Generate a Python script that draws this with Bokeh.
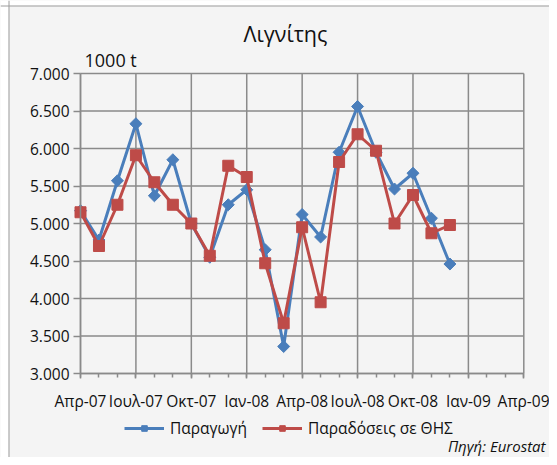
import math
from bokeh.plotting import figure
from bokeh.models import FixedTicker, Legend, LegendItem, Range1d, Label, Span, BoxAnnotation
from bokeh.embed import file_html
from bokeh.resources import INLINE

# month index: 0 = Apr-07 ... 20 = Dec-08
month_index = list(range(21))
production = [5170, 4780, 5570, 6330, 5370, 5850, 5000, 4550, 5250, 5450, 4650,
              3360, 5120, 4820, 5950, 6560, 5950, 5460, 5670, 5070, 4460]
deliveries = [5150, 4700, 5250, 5910, 5550, 5250, 5000, 4570, 5770, 5620, 4470,
              3670, 4950, 3950, 5820, 6190, 5970, 5000, 5380, 4870, 4980]
x_tick_pos = [0, 3, 6, 9, 12, 15, 18, 21, 24]
x_tick_labels = ["Απρ-07", "Ιουλ-07", "Οκτ-07", "Ιαν-08", "Απρ-08",
                 "Ιουλ-08", "Οκτ-08", "Ιαν-09", "Απρ-09"]
y_tick_pos = [3000, 3500, 4000, 4500, 5000, 5500, 6000, 6500, 7000]
y_tick_labels = ["3.000", "3.500", "4.000", "4.500", "5.000",
                 "5.500", "6.000", "6.500", "7.000"]

FONT = "Open Sans"
BG = "#f4f4f4"
GRID = "#8a8a8a"
BLUE = "#4A7EBB"
RED = "#BE4B48"
TXT = "#111111"

# layout (pixels)
W, H = 549, 457
LEFT, TOP = 80, 73
PLOT_W, PLOT_H = 443.3, 300.0          # pixel size of the gridded area
x0, x1 = x_tick_pos[0], x_tick_pos[-1]
y0, y1 = y_tick_pos[0], y_tick_pos[-1]
px_x = PLOT_W / (x1 - x0)
px_y = PLOT_H / (y1 - y0)


def dx(px):
    return x0 + (px - LEFT) / px_x


def dy(py):
    return y1 - (py - TOP) / px_y


p = figure(width=W, height=H, output_backend="svg", toolbar_location=None,
           x_range=Range1d(dx(0), dx(W)), y_range=Range1d(dy(H), dy(0)),
           min_border_left=0, min_border_right=0, min_border_top=0,
           min_border_bottom=0, title=None)
p.background_fill_color = BG
p.border_fill_color = BG
p.outline_line_color = None
p.xgrid.visible = False
p.ygrid.visible = False

# outer chart border (top / left) as in the reference
p.add_layout(BoxAnnotation(right=dx(8), fill_color="white", fill_alpha=1, line_alpha=0))
p.add_layout(BoxAnnotation(bottom=dy(5), fill_color="white", fill_alpha=1, line_alpha=0))
p.add_layout(Span(location=dx(8.5), dimension="height", line_color="#9c9c9c", line_width=1))
p.add_layout(Span(location=dy(5.5), dimension="width", line_color="#9c9c9c", line_width=1))

# grid (incl. plot-area border) drawn from the tick positions
p.segment(x0=x_tick_pos, y0=[y0] * len(x_tick_pos), x1=x_tick_pos,
          y1=[y1] * len(x_tick_pos), line_color=GRID, line_width=1.5)
p.segment(x0=[x0] * len(y_tick_pos), y0=y_tick_pos, x1=[x1] * len(y_tick_pos),
          y1=y_tick_pos, line_color=GRID, line_width=1.5)

xt = FixedTicker(ticks=x_tick_pos, minor_ticks=list(range(x0, x1 + 1)))
yt = FixedTicker(ticks=y_tick_pos)
p.xaxis.ticker = xt
p.yaxis.ticker = yt
p.xaxis.fixed_location = y0
p.yaxis.fixed_location = x0
p.xaxis.bounds = (x0, x1)
p.yaxis.bounds = (y0, y1)
p.xaxis.major_label_overrides = {k: v for k, v in zip(x_tick_pos, x_tick_labels)}
p.yaxis.major_label_overrides = {k: v for k, v in zip(y_tick_pos, y_tick_labels)}
for ax in (p.xaxis, p.yaxis):
    ax.axis_line_color = GRID
    ax.axis_line_width = 1.5
    ax.major_tick_line_color = GRID
    ax.major_tick_line_width = 1.5
    ax.minor_tick_line_color = GRID
    ax.minor_tick_line_width = 1.5
    ax.major_tick_in = 0
    ax.minor_tick_in = 0
    ax.major_label_text_font = FONT
    ax.major_label_text_font_size = "15.5px"
    ax.major_label_text_color = TXT
p.xaxis.major_tick_out = 5
p.xaxis.minor_tick_out = 4
p.xaxis.major_label_standoff = 11
p.yaxis.major_tick_out = 7
p.yaxis.minor_tick_out = 0
p.yaxis.major_label_standoff = 4

bl = p.line(month_index, production, line_color=BLUE, line_width=3)
bs = p.scatter(month_index, production, marker="square", size=8.5,
               angle=math.pi / 4, fill_color=BLUE, line_color=BLUE)
rl = p.line(month_index, deliveries, line_color=RED, line_width=3)
rs = p.scatter(month_index, deliveries, marker="square", size=11,
               fill_color=RED, line_color=RED)

legend = Legend(items=[LegendItem(label="Παραγωγή", renderers=[bl, bs]),
                       LegendItem(label="Παραδόσεις σε ΘΗΣ", renderers=[rl, rs])],
                orientation="horizontal", location=(124, 18),
                glyph_width=40, glyph_height=14, label_height=14,
                label_standoff=6, spacing=15,
                padding=0, margin=0, border_line_color=None,
                background_fill_alpha=0, label_text_font=FONT,
                label_text_font_size="15.5px", label_text_color=TXT)
p.add_layout(legend, "center")

p.add_layout(Label(x=dx(243), y=dy(33), text="Λιγνίτης", text_align="left",
                   text_baseline="middle", text_font=FONT, text_font_size="21.5px",
                   text_color=TXT))
p.add_layout(Label(x=dx(84), y=dy(59), text="1000 t", text_align="left",
                   text_baseline="middle", text_font=FONT, text_font_size="18px",
                   text_color=TXT))
p.add_layout(Label(x=dx(545), y=dy(445), text="Πηγή: Eurostat", text_align="right",
                   text_baseline="middle", text_font=FONT, text_font_size="15px",
                   text_font_style="italic", text_color=TXT))

open("out.html", "w").write(file_html(p, INLINE))
